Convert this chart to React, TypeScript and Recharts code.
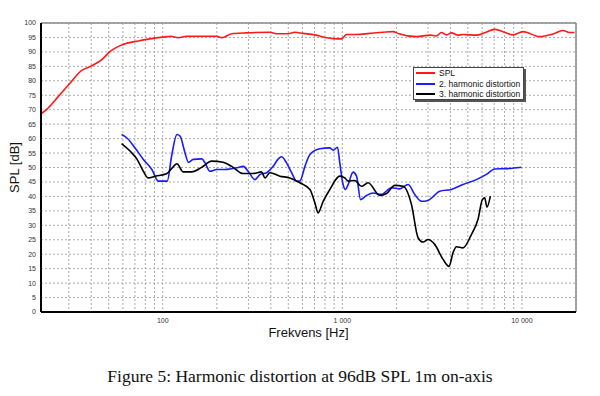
import React from "react";
import {
  LineChart,
  Line,
  XAxis,
  YAxis,
  CartesianGrid,
  ReferenceLine,
  Legend,
} from "recharts";

// [frequency Hz, level dB]
const splPoints: [number, number][] = [
  [21, 68.6], [22.6, 70.1], [26.3, 74.7], [30, 78.7], [35.4, 83.6], [40, 85.1],
  [46, 87.4], [51, 90.2], [60, 92.6], [72, 93.7], [85, 94.5], [100, 95.1],
  [111, 95.4], [122, 94.9], [136, 95.4], [160, 95.4], [200, 95.4], [213, 94.9],
  [242, 96.3], [293, 96.6], [395, 96.8], [430, 96.3], [500, 96.3], [544, 96.8],
  [605, 96.4], [703, 95.9], [817, 94.9], [889, 94.6], [990, 94.5], [1055, 96.0],
  [1200, 96.0], [1420, 96.4], [1690, 96.8], [1920, 97.0], [2040, 96.4],
  [2590, 95.3], [3070, 95.8], [3340, 95.5], [3560, 96.7], [3800, 95.9],
  [4050, 96.6], [4400, 95.8], [4700, 96.0], [5580, 95.8], [6200, 96.6],
  [7050, 97.8], [7840, 97.0], [8910, 95.9], [10130, 97.0], [12550, 95.3],
  [14875, 96.2], [16900, 97.4], [18400, 96.7], [19640, 96.7],
];

const h2Points: [number, number][] = [
  [59, 61.4], [63, 60.3], [70, 56.8], [78, 52.8], [87, 49.3], [94.5, 45.3],
  [106, 45.3], [112, 53.9], [120, 61.4], [125, 60.8], [133, 55.1], [139, 51.8],
  [148, 52.8], [165, 53.0], [172, 51.6], [183, 48.7], [200, 49.3], [222, 49.3],
  [237, 49.5], [258, 49.9], [281, 50.4], [299, 48.7], [326, 45.8], [348, 47.6],
  [379, 48.2], [412, 50.4], [440, 53.0], [459, 53.7], [489, 51.6], [522, 48.2],
  [556, 45.3], [580, 45.3], [619, 50.4], [660, 54.5], [750, 56.5], [852, 56.8],
  [889, 56.0], [940, 57.0], [968, 51.6], [1010, 44.1], [1042, 42.4],
  [1077, 44.1], [1148, 48.4], [1200, 47.0], [1263, 38.9], [1363, 40.3],
  [1484, 41.2], [1652, 40.7], [1877, 43.0], [2089, 42.6], [2323, 44.1],
  [2531, 40.7], [2757, 38.3], [3001, 38.6], [3486, 41.8], [4050, 42.4],
  [4697, 44.1], [5578, 45.8], [6339, 47.6], [7050, 49.5], [8190, 49.6],
  [9924, 50.1],
];

const h3Points: [number, number][] = [
  [59, 58.3], [66, 55.6], [72, 52.8], [78, 48.7], [83, 46.4], [91, 47.0],
  [105, 47.8], [112, 49.6], [120, 51.3], [130, 48.5], [145, 48.5], [165, 50.1],
  [187, 52.2], [217, 51.8], [242, 50.4], [281, 47.9], [319, 47.9], [355, 48.5],
  [371, 46.4], [395, 48.2], [449, 47.0], [510, 46.4], [580, 44.7], [660, 42.4],
  [703, 37.8], [733, 34.3], [782, 38.3], [852, 42.4], [968, 47.0], [1032, 46.4],
  [1077, 45.3], [1173, 45.5], [1279, 43.5], [1391, 44.7], [1617, 40.3],
  [1762, 41.0], [1959, 43.8], [2179, 43.5], [2426, 37.2], [2640, 25.7],
  [2814, 24.2], [3001, 25.1], [3269, 23.4], [3636, 18.2], [3926, 15.8],
  [4133, 20.5], [4317, 22.6], [4697, 22.2], [5231, 26.8], [5691, 32.0],
  [6022, 38.9], [6202, 39.5], [6388, 36.3], [6673, 40.1],
];

const xTicks = [
  30, 40, 50, 60, 70, 80, 90, 100, 200, 300, 400, 500, 600, 700, 800, 900,
  1000, 2000, 3000, 4000, 5000, 6000, 7000, 8000, 9000, 10000, 20000,
];
const xTickLabels: Record<number, string> = {
  100: "100",
  1000: "1 000",
  10000: "10 000",
};
const yTicks = [
  0, 5, 10, 15, 20, 25, 30, 35, 40, 45, 50, 55, 60, 65, 70, 75, 80, 85, 90, 95,
  100,
];

const series = [
  { key: "spl", label: "SPL", color: "#ff1a1a", points: splPoints },
  { key: "h2", label: "2. harmonic distortion", color: "#1a1aff", points: h2Points },
  { key: "h3", label: "3. harmonic distortion", color: "#000000", points: h3Points },
];

const toRows = (pts: [number, number][]) => pts.map(([f, db]) => ({ f, db }));

const font = "'Liberation Sans', Arial, sans-serif";

function LegendBox() {
  return (
    <div
      style={{
        width: 109,
        height: 31,
        border: "1px solid #444",
        background: "#fff",
        boxShadow: "2px 2px 0 #555",
        fontFamily: font,
        fontSize: 8.5,
        color: "#111",
        boxSizing: "content-box",
      }}
    >
      {series.map((s) => (
        <div
          key={s.key}
          style={{ display: "flex", alignItems: "center", height: 10.5 }}
        >
          <div
            style={{
              width: 19,
              height: 2,
              background: s.color,
              marginLeft: 2,
              marginRight: 4,
            }}
          />
          <span>{s.label}</span>
        </div>
      ))}
    </div>
  );
}

export default function App() {
  return (
    <div
      style={{
        position: "absolute",
        left: 0,
        top: 0,
        width: 600,
        height: 396,
        background: "#fff",
      }}
    >
      <LineChart
        width={600}
        height={340}
        margin={{ top: 23, right: 24, bottom: 8, left: 0 }}
        style={{ fontFamily: font }}
      >
        <CartesianGrid stroke="#aaa" strokeDasharray="2 2" strokeWidth={1} />
        <XAxis
          dataKey="f"
          type="number"
          scale="log"
          domain={[21, 20000]}
          allowDataOverflow
          ticks={xTicks}
          interval={0}
          tickLine={false}
          tickSize={0}
          tickMargin={6}
          height={20}
          stroke="#000"
          strokeWidth={2}
          tick={{ fontSize: 7, fill: "#333" }}
          tickFormatter={(v: number) => xTickLabels[v] ?? ""}
          label={{
            value: "Frekvens [Hz]",
            position: "bottom",
            offset: -4,
            style: { fontSize: 13, fill: "#111" },
          }}
        />
        <YAxis
          type="number"
          domain={[0, 100]}
          ticks={yTicks}
          interval={0}
          width={41}
          tickLine={false}
          tickSize={0}
          tickMargin={5}
          stroke="#000"
          strokeWidth={2}
          tick={{ fontSize: 7, fill: "#333" }}
          label={{
            value: "SPL [dB]",
            angle: -90,
            position: "insideLeft",
            offset: 14,
            style: { fontSize: 13, fill: "#111", textAnchor: "middle" },
          }}
        />
        <ReferenceLine y={100} stroke="#8a8a8a" strokeWidth={1.5} />
        <ReferenceLine x={20000} stroke="#8a8a8a" strokeWidth={1.5} />
        {series.map((s) => (
          <Line
            key={s.key}
            data={toRows(s.points)}
            dataKey="db"
            name={s.label}
            type="monotone"
            stroke={s.color}
            strokeWidth={1.6}
            dot={false}
            isAnimationActive={false}
          />
        ))}
        <Legend
          layout="vertical"
          align="center"
          verticalAlign="middle"
          content={() => <LegendBox />}
          wrapperStyle={{ left: 413, top: 67, width: 112, height: 34 }}
        />
      </LineChart>
      <div
        style={{
          position: "absolute",
          left: 0,
          top: 366,
          width: 600,
          textAlign: "center",
          fontFamily: "'Liberation Serif', 'DejaVu Serif', serif",
          fontSize: 17.5,
          lineHeight: "20px",
          color: "#111",
        }}
      >
        Figure 5: Harmonic distortion at 96dB SPL 1m on-axis
      </div>
    </div>
  );
}
